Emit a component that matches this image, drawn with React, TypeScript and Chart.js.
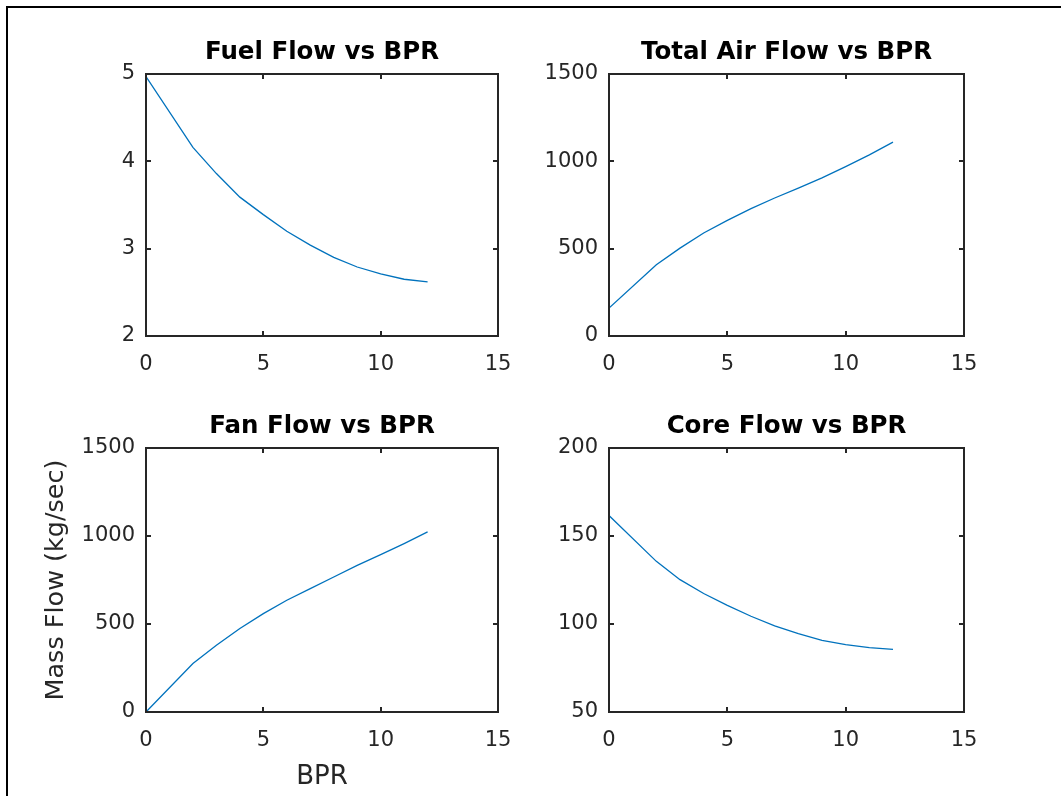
import React, { useEffect, useRef } from "react";
import { Chart, registerables } from "chart.js";

Chart.register(...registerables);

// ---- data ----
const BPR = [0, 2, 3, 4, 5, 6, 7, 8, 9, 10, 11, 12];
const FUEL_FLOW = [4.97, 4.16, 3.86, 3.59, 3.39, 3.2, 3.04, 2.9, 2.79, 2.71, 2.65, 2.62];
const TOTAL_AIR_FLOW = [160, 408, 503, 590, 662, 729, 790, 847, 905, 970, 1037, 1110];
const FAN_FLOW = [0, 275, 379, 474, 559, 635, 701, 767, 833, 894, 957, 1023];
const CORE_FLOW = [161.6, 135.6, 125.2, 117.3, 110.6, 104.4, 98.9, 94.5, 90.7, 88.3, 86.6, 85.6];

const X_TICKS = [0, 5, 10, 15];
const FUEL_TICKS = [2, 3, 4, 5];
const TOTAL_TICKS = [0, 500, 1000, 1500];
const FAN_TICKS = [0, 500, 1000, 1500];
const CORE_TICKS = [50, 100, 150, 200];

const TITLES = ["Fuel Flow vs BPR", "Total Air Flow vs BPR", "Fan Flow vs BPR", "Core Flow vs BPR"];
const Y_LABEL = "Mass Flow (kg/sec)";
const X_LABEL = "BPR";

const W = 1061;
const H = 796;
const FONT = "'DejaVu Sans', 'Liberation Sans', sans-serif";
const LINE_COLOR = "#0072BD";
const AXIS_COLOR = "#262626";

type Panel = {
  title: string;
  values: number[];
  yTicks: number[];
  area: { left: number; top: number; right: number; bottom: number };
  showXLabel: boolean;
  showYLabel: boolean;
};

const PANELS: Panel[] = [
  { title: TITLES[0], values: FUEL_FLOW, yTicks: FUEL_TICKS, area: { left: 146, top: 74, right: 498, bottom: 336 }, showXLabel: false, showYLabel: false },
  { title: TITLES[1], values: TOTAL_AIR_FLOW, yTicks: TOTAL_TICKS, area: { left: 609, top: 74, right: 964, bottom: 336 }, showXLabel: false, showYLabel: false },
  { title: TITLES[2], values: FAN_FLOW, yTicks: FAN_TICKS, area: { left: 146, top: 448, right: 498, bottom: 712 }, showXLabel: true, showYLabel: true },
  { title: TITLES[3], values: CORE_FLOW, yTicks: CORE_TICKS, area: { left: 609, top: 448, right: 964, bottom: 712 }, showXLabel: false, showYLabel: false },
];

const boxPlugin = {
  id: "matlabBox",
  afterDatasetsDraw(chart: any) {
    const { ctx, chartArea, scales } = chart;
    const { left, top, right, bottom } = chartArea;
    const tl = 5;
    ctx.save();
    ctx.strokeStyle = AXIS_COLOR;
    ctx.lineWidth = 2;
    ctx.beginPath();
    scales.x.ticks.forEach((t: any) => {
      const px = Math.round(scales.x.getPixelForValue(t.value));
      if (px > left + 1 && px < right - 1) {
        ctx.moveTo(px, bottom);
        ctx.lineTo(px, bottom - tl);
        ctx.moveTo(px, top);
        ctx.lineTo(px, top + tl);
      }
    });
    scales.y.ticks.forEach((t: any) => {
      const py = Math.round(scales.y.getPixelForValue(t.value));
      if (py > top + 1 && py < bottom - 1) {
        ctx.moveTo(left, py);
        ctx.lineTo(left + tl, py);
        ctx.moveTo(right, py);
        ctx.lineTo(right - tl, py);
      }
    });
    ctx.stroke();
    ctx.strokeRect(left, top, right - left, bottom - top);
    ctx.restore();
  },
};

function makeConfig(p: Panel): any {
  const padLeft = p.area.left - 146;
  const yWidth = 146;
  const xHeight = p.area.bottom > 400 ? H - p.area.bottom : 60;
  const padBottom = H - p.area.bottom - xHeight;
  const titleLine = 24.5 * 1.2;
  const titleCenter = p.area.top - 21;
  const titlePadTop = titleCenter - titleLine / 2;
  const titlePadBottom = p.area.top - titlePadTop - titleLine;
  return {
    type: "line",
    data: {
      datasets: [
        {
          data: BPR.map((x, i) => ({ x, y: p.values[i] })),
          borderColor: LINE_COLOR,
          borderWidth: 1.3,
          pointRadius: 0,
          tension: 0,
          fill: false,
        },
      ],
    },
    options: {
      responsive: false,
      animation: false,
      devicePixelRatio: 1,
      events: [],
      layout: { padding: { left: padLeft, top: 0, right: W - p.area.right, bottom: padBottom } },
      plugins: {
        legend: { display: false },
        tooltip: { enabled: false },
        title: {
          display: true,
          fullSize: false,
          text: p.title,
          color: "#000000",
          font: { family: FONT, size: 24.5, weight: "bold", lineHeight: 1.2 },
          padding: { top: titlePadTop, bottom: titlePadBottom },
        },
      },
      scales: {
        x: {
          type: "linear",
          min: X_TICKS[0],
          max: X_TICKS[X_TICKS.length - 1],
          afterBuildTicks: (s: any) => {
            s.ticks = X_TICKS.map((v) => ({ value: v }));
          },
          afterFit: (s: any) => {
            s.height = xHeight;
          },
          grid: { display: false, drawTicks: false },
          border: { display: false },
          ticks: {
            color: AXIS_COLOR,
            padding: 16,
            maxRotation: 0,
            autoSkip: false,
            callback: (v: any) => String(v),
            font: { family: FONT, size: 21, lineHeight: 1.2 },
          },
          title: {
            display: p.showXLabel,
            text: X_LABEL,
            color: AXIS_COLOR,
            font: { family: FONT, size: 26, lineHeight: 1.2 },
            padding: { top: 0, bottom: 3 },
          },
        },
        y: {
          type: "linear",
          min: p.yTicks[0],
          max: p.yTicks[p.yTicks.length - 1],
          afterBuildTicks: (s: any) => {
            s.ticks = p.yTicks.map((v) => ({ value: v }));
          },
          afterFit: (s: any) => {
            s.width = yWidth;
          },
          grid: { display: false, drawTicks: false },
          border: { display: false },
          ticks: {
            color: AXIS_COLOR,
            padding: 11,
            autoSkip: false,
            callback: (v: any) => String(v),
            font: { family: FONT, size: 21, lineHeight: 1.2 },
          },
          title: {
            display: p.showYLabel,
            text: Y_LABEL,
            color: AXIS_COLOR,
            font: { family: FONT, size: 25.5, lineHeight: 1.2 },
            padding: { top: 41, bottom: 0 },
          },
        },
      },
    },
    plugins: [boxPlugin],
  };
}

function PanelChart({ panel }: { panel: Panel }) {
  const ref = useRef<HTMLCanvasElement | null>(null);
  useEffect(() => {
    if (!ref.current) return;
    const chart = new Chart(ref.current, makeConfig(panel));
    return () => chart.destroy();
  }, [panel]);
  return (
    <canvas
      ref={ref}
      width={W}
      height={H}
      style={{ position: "absolute", left: 0, top: 0, width: W, height: H, pointerEvents: "none" }}
    />
  );
}

export default function App() {
  return (
    <div
      style={{
        position: "fixed",
        left: 0,
        top: 0,
        width: W,
        height: H,
        background: "#ffffff",
        overflow: "hidden",
      }}
    >
      <div
        style={{
          position: "absolute",
          left: 6,
          top: 6,
          width: W,
          height: H,
          borderLeft: "2px solid #000",
          borderTop: "2px solid #000",
        }}
      />
      {PANELS.map((p, i) => (
        <PanelChart key={i} panel={p} />
      ))}
    </div>
  );
}
